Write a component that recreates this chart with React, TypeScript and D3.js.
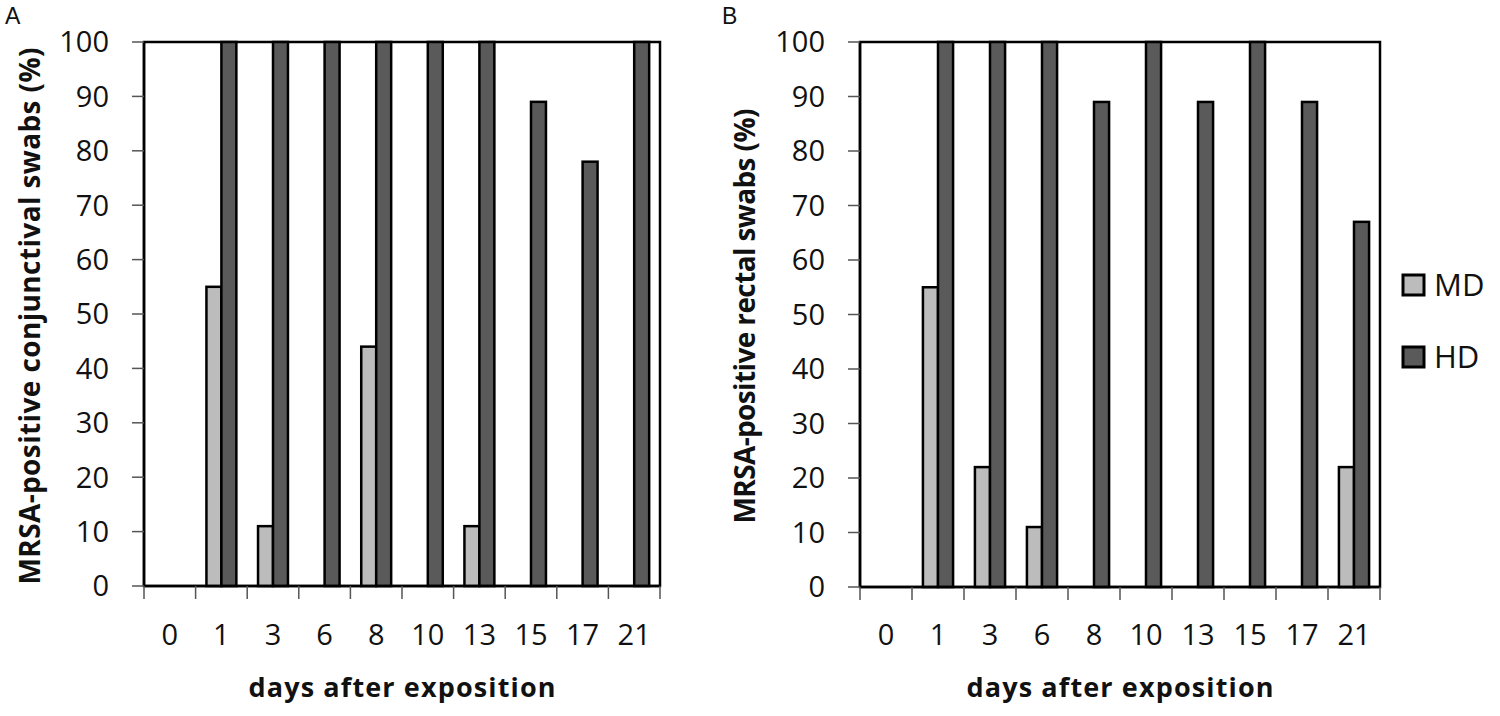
import React from "react";
import * as d3 from "d3";

const days = ["0", "1", "3", "6", "8", "10", "13", "15", "17", "21"];
const conjMD = [0, 55, 11, 0, 44, 0, 11, 0, 0, 0];
const conjHD = [0, 100, 100, 100, 100, 100, 100, 89, 78, 100];
const rectMD = [0, 55, 22, 11, 0, 0, 0, 0, 0, 22];
const rectHD = [0, 100, 100, 100, 89, 100, 89, 100, 89, 67];
const yTicks = [0, 10, 20, 30, 40, 50, 60, 70, 80, 90, 100];
const seriesNames = ["MD", "HD"];

const FONT = "'Open Sans', Lato, sans-serif";
const MD_FILL = "#bcbcbc";
const HD_FILL = "#5a5a5a";

type PanelProps = {
  left: number;
  right: number;
  top: number;
  bottom: number;
  md: number[];
  hd: number[];
  title: string;
  titleLen: number;
  letter: string;
  letterX: number;
  titleX: number;
};

function Panel({ left, right, top, bottom, md, hd, title, titleLen, letter, letterX, titleX }: PanelProps) {
  const x = d3.scaleBand<string>().domain(days).range([left, right]).paddingInner(0).paddingOuter(0);
  const y = d3.scaleLinear().domain([0, 100]).range([bottom, top]);
  const step = x.step();
  const bw = step * 0.29;
  const boundaries = d3.range(days.length + 1).map((i) => left + i * step);
  return (
    <g>
      <text x={letterX} y={24} fontFamily="'Liberation Sans', Arial, sans-serif" fontSize={23} fill="#111">
        {letter}
      </text>
      <rect x={left} y={top} width={right - left} height={bottom - top} fill="#fff" stroke="#000" strokeWidth={2.5} />
      {days.map((d, i) => {
        const c = (x(d) as number) + step / 2;
        return (
          <g key={d}>
            <rect x={c - bw} y={y(md[i])} width={bw} height={bottom - y(md[i])} fill={MD_FILL} stroke="#000" strokeWidth={2.5} />
            <rect x={c} y={y(hd[i])} width={bw} height={bottom - y(hd[i])} fill={HD_FILL} stroke="#000" strokeWidth={2.5} />
          </g>
        );
      })}
      <line x1={left} x2={right} y1={bottom} y2={bottom} stroke="#000" strokeWidth={2.5} />
      <line x1={left} x2={left} y1={top} y2={bottom} stroke="#000" strokeWidth={2.5} />
      {yTicks.map((t) => (
        <g key={t}>
          <line x1={left - 12} x2={left} y1={y(t)} y2={y(t)} stroke="#555" strokeWidth={1.5} />
          <text x={left - 35} y={y(t)} dy="0.36em" textAnchor="end" fontFamily={FONT} fontSize={29} fill="#111">
            {t}
          </text>
        </g>
      ))}
      {boundaries.map((b, i) => (
        <line key={i} x1={b} x2={b} y1={bottom} y2={bottom + 13} stroke="#555" strokeWidth={1.5} />
      ))}
      {days.map((d) => (
        <text key={d} x={(x(d) as number) + step / 2} y={645} textAnchor="middle" fontFamily={FONT} fontSize={29} fill="#111">
          {d}
        </text>
      ))}
      <text x={(left + right) / 2} y={697} textAnchor="middle" fontFamily={FONT} fontSize={27} fontWeight={700} fill="#111" textLength={307} lengthAdjust="spacing">
        days after exposition
      </text>
      <text
        transform={`translate(${titleX},${316}) rotate(-90)`}
        textAnchor="middle"
        fontFamily={FONT}
        fontSize={28}
        fontWeight={700}
        fill="#111"
        textLength={titleLen}
        lengthAdjust="spacing"
      >
        {title}
      </text>
    </g>
  );
}

export default function App() {
  const legendFills = [MD_FILL, HD_FILL];
  return (
    <div style={{ position: "absolute", left: 0, top: 0 }}>
      <svg width={1500} height={716} style={{ display: "block", background: "#fff" }}>
        <Panel left={144} right={660} top={42} bottom={586} md={conjMD} hd={conjHD} title="MRSA-positive conjunctival swabs (%)" titleLen={537} letter="A" letterX={5} titleX={40} />
        <Panel left={860} right={1380} top={42} bottom={587} md={rectMD} hd={rectHD} title="MRSA-positive rectal swabs (%)" titleLen={415} letter="B" letterX={722} titleX={755} />
        {seriesNames.map((s, i) => (
          <g key={s}>
            <rect x={1403} y={275 + i * 72} width={21} height={20} fill={legendFills[i]} stroke="#000" strokeWidth={3} />
            <text x={1434} y={296 + i * 72} fontFamily={FONT} fontSize={31} fill="#111">
              {s}
            </text>
          </g>
        ))}
      </svg>
    </div>
  );
}
